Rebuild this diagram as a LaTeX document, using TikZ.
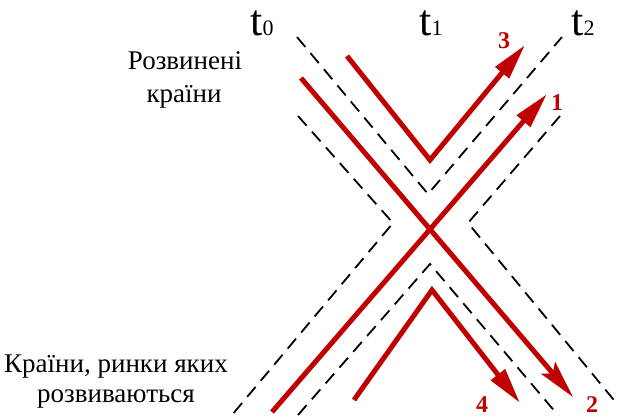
\documentclass[tikz,border=0pt]{standalone}
\usepackage{fontspec}
\setmainfont{Liberation Serif}
\usetikzlibrary{arrows.meta}
\definecolor{dred}{RGB}{192,0,0}
\begin{document}
\begin{tikzpicture}[x=1pt,y=-1pt,
  redline/.style={draw=dred,line width=5pt},
  dashline/.style={draw=black,line width=1.8pt,dash pattern=on 13pt off 8pt},
  arr/.style={-{Triangle[length=36pt,width=17pt]}},
  arrs/.style={-{Stealth[length=38pt,width=18pt,inset=7pt]}},
  lbl/.style={font=\fontsize{27}{30}\selectfont,anchor=base},
  num/.style={text=dred,font=\fontsize{24}{24}\selectfont\bfseries,anchor=base},
  tlbl/.style={anchor=base,inner sep=0pt}
]
\useasboundingbox (0,0) rectangle (618,418);
% dashed guide lines
\coordinate (a1) at (297,37);  \coordinate (av) at (428,194); \coordinate (a2) at (562,37);
\coordinate (b1) at (298,116); \coordinate (bv) at (393,223); \coordinate (b2) at (232,415);
\coordinate (c1) at (560,116); \coordinate (cv) at (468,223); \coordinate (c2) at (618,405);
\coordinate (d1) at (298,415); \coordinate (dv) at (430,264); \coordinate (d2) at (557,414);
\draw[dashline] (a1) -- (av) -- (a2);
\draw[dashline] (b1) -- (bv) -- (b2);
\draw[dashline] (c1) -- (cv) -- (c2);
\draw[dashline] (d1) -- (dv) -- (d2);
% red trajectories
\coordinate (s1) at (272,412); \coordinate (e1) at (547,94);
\coordinate (s2) at (301,78);  \coordinate (e2) at (573,397);
\coordinate (s3) at (347,56);  \coordinate (v3) at (430,160); \coordinate (e3) at (525,45);
\coordinate (s4) at (354,400); \coordinate (v4) at (432,290); \coordinate (e4) at (520,403);
\draw[redline,arr] (s1) -- (e1);
\draw[redline,arrs] (s2) -- (e2);
\draw[redline,arr,line join=miter] (s3) -- (v3) -- (e3);
\draw[redline,arr,line join=miter] (s4) -- (v4) -- (e4);
% numbers
\node[num] (n3) at (504,48) {3};
\node[num] (n1) at (557,110) {1};
\node[num] (n4) at (482,412) {4};
\node[num] (n2) at (592,412) {2};
% time labels
\node[tlbl] (t0) at (262,35) {{\fontsize{44}{44}\selectfont t}{\fontsize{22}{22}\selectfont 0}};
\node[tlbl] (t1) at (431,35) {{\fontsize{44}{44}\selectfont t}{\fontsize{22}{22}\selectfont 1}};
\node[tlbl] (t2) at (583,35) {{\fontsize{44}{44}\selectfont t}{\fontsize{22}{22}\selectfont 2}};
% texts
\node[lbl] (dev1) at (185,69) {Розвинені};
\node[lbl] (dev2) at (184,102) {країни};
\node[lbl] (em1) at (116,372) {Країни, ринки яких};
\node[lbl] (em2) at (116,402) {розвиваються};
\end{tikzpicture}
\end{document}
